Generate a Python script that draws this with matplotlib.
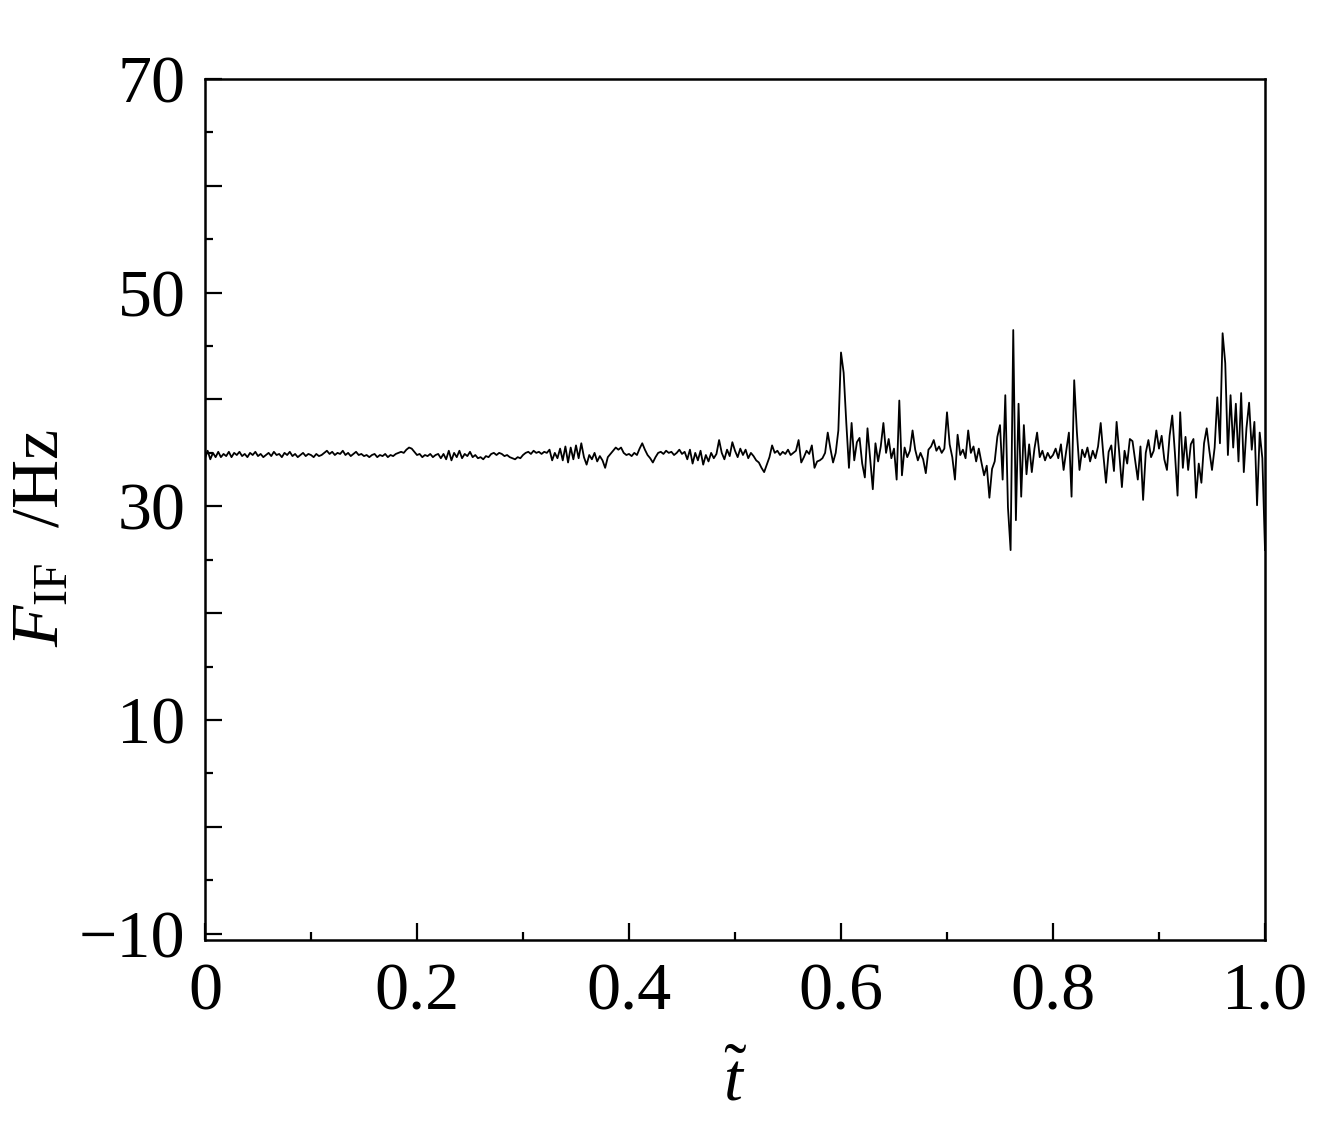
import numpy as np
import matplotlib
matplotlib.use("Agg")
import matplotlib.pyplot as plt
from matplotlib.ticker import FixedLocator, FuncFormatter

plt.rcParams['font.family'] = ['Liberation Serif', 'DejaVu Serif']
plt.rcParams['mathtext.fontset'] = 'custom'
plt.rcParams['mathtext.rm'] = 'Liberation Serif'
plt.rcParams['mathtext.it'] = 'Liberation Serif:italic'

# instantaneous frequency F_IF (Hz), sampled every 0.0025 of normalized time
seg0 = [34.5, 35.2, 34.4, 35.0, 34.6, 35.1, 34.6, 34.9, 34.7, 35.1,
        34.6, 35.0, 34.8, 35.1, 34.7, 34.9, 34.6, 35.0, 34.8, 35.1,
        34.7, 34.9, 34.6, 34.8, 35.0, 34.7, 35.1, 34.8, 34.9, 34.6,
        35.0, 34.8, 35.1, 34.7, 34.9, 34.6, 34.8, 35.0, 34.7, 34.9]
seg1 = [34.8, 34.6, 34.9, 34.7, 34.8, 35.0, 35.2, 34.9, 35.1, 34.8,
        35.0, 34.9, 35.2, 34.8, 35.0, 34.7, 34.9, 35.1, 34.8, 34.9,
        34.7, 34.8, 34.6, 34.8, 34.9, 34.6, 34.8, 34.7, 34.9, 34.6,
        34.8, 34.7, 34.9, 35.0, 35.1, 35.0, 35.3, 35.5, 35.4, 35.1]
seg2 = [34.8, 34.9, 34.6, 34.8, 34.7, 34.9, 34.6, 34.8, 34.9, 34.5,
        34.9, 34.4, 35.2, 34.3, 35.0, 34.6, 35.2, 34.5, 34.9, 34.7,
        35.1, 34.6, 34.8, 34.5, 34.6, 34.4, 34.7, 34.6, 34.9, 35.0,
        34.8, 35.0, 34.9, 34.7, 34.8, 34.6, 34.5, 34.4, 34.6, 34.5]
seg3 = [34.8, 35.0, 35.1, 34.9, 35.2, 35.0, 35.1, 34.9, 35.1, 35.0,
        35.3, 34.3, 35.0, 34.5, 35.4, 34.3, 35.6, 34.1, 35.5, 34.4,
        35.7, 34.5, 35.9, 34.6, 33.9, 34.8, 34.4, 35.0, 34.2, 34.7,
        34.3, 33.6, 34.6, 34.9, 35.2, 35.5, 35.3, 35.5, 35.0, 34.8]
seg4 = [34.9, 34.7, 35.0, 34.8, 35.4, 35.9, 35.3, 34.8, 34.5, 34.1,
        34.6, 35.0, 35.1, 34.9, 35.2, 35.0, 35.1, 34.8, 35.0, 35.3,
        34.9, 35.1, 34.4, 35.3, 34.0, 35.0, 34.3, 35.2, 33.9, 34.8,
        34.2, 35.0, 34.5, 34.9, 36.2, 35.0, 34.4, 35.3, 34.7, 36.0]
seg5 = [35.2, 34.6, 35.4, 34.8, 35.3, 34.5, 35.0, 34.7, 34.3, 34.1,
        33.6, 33.2, 33.9, 34.6, 35.7, 35.0, 35.2, 34.8, 35.1, 34.9,
        35.3, 34.8, 35.0, 35.2, 36.2, 34.1, 34.6, 35.2, 34.9, 35.7,
        33.6, 34.2, 34.3, 34.5, 35.0, 36.9, 35.4, 34.1, 35.0, 37.1]
seg6 = [44.4, 42.5, 37.8, 33.6, 37.8, 34.3, 36.0, 36.4, 34.0, 32.7,
        37.3, 34.5, 31.6, 35.9, 34.2, 35.6, 37.8, 35.0, 36.3, 34.5,
        35.4, 32.5, 39.9, 32.9, 35.5, 34.6, 35.2, 37.1, 35.3, 34.3,
        35.0, 34.4, 33.1, 35.3, 35.6, 36.2, 35.2, 35.6, 35.0, 35.4]
seg7 = [38.8, 35.8, 34.6, 32.5, 36.7, 34.8, 35.3, 34.5, 37.1, 35.0,
        35.6, 34.2, 35.4, 34.1, 32.9, 33.8, 30.8, 33.5, 34.2, 36.5,
        37.6, 32.5, 40.4, 29.9, 25.9, 46.5, 28.7, 39.6, 30.9, 37.6,
        33.0, 35.8, 33.2, 35.4, 36.9, 34.6, 35.2, 34.3, 35.0, 34.5]
seg8 = [34.8, 35.4, 34.5, 35.8, 33.4, 35.2, 36.9, 30.9, 41.8, 37.0,
        33.4, 35.3, 34.6, 35.5, 34.2, 35.2, 34.5, 35.6, 37.8, 34.8,
        32.2, 35.1, 35.7, 33.3, 37.9, 35.0, 31.8, 35.2, 34.0, 36.3,
        36.1, 34.3, 32.5, 35.6, 30.6, 35.0, 36.2, 34.6, 35.2, 37.1]
seg9 = [35.4, 36.6, 34.4, 33.4, 36.6, 38.5, 35.0, 31.0, 38.8, 33.6,
        36.5, 33.4, 35.8, 36.3, 30.8, 34.0, 32.2, 35.9, 37.3, 35.2,
        33.4, 35.5, 40.2, 35.9, 46.2, 43.4, 34.8, 40.4, 35.5, 39.6,
        34.2, 40.6, 33.2, 37.3, 39.7, 35.3, 37.9, 30.1, 36.9, 34.5]
f_end = [25.9]

f_if = np.array(seg0 + seg1 + seg2 + seg3 + seg4 + seg5 + seg6 + seg7 + seg8 + seg9 + f_end)
t = np.linspace(0.0, 1.0, len(f_if))

x_major = [0.0, 0.2, 0.4, 0.6, 0.8, 1.0]
x_minor = [0.1, 0.3, 0.5, 0.7, 0.9]
y_major = [-10, 0, 10, 20, 30, 40, 50, 60, 70]
y_minor = [-5, 5, 15, 25, 35, 45, 55, 65]
y_labeled = [-10, 10, 30, 50, 70]

fig = plt.figure(figsize=(13.17, 11.40), dpi=100)
ax = fig.add_axes([205/1317, 1 - 940/1140, 1060/1317, 861/1140])
ax.plot(t, f_if, color='black', linewidth=1.3)

ax.set_xlim(0, 1.0)
ax.set_ylim(-10.6, 70)

ax.xaxis.set_major_locator(FixedLocator(x_major))
ax.xaxis.set_minor_locator(FixedLocator(x_minor))
ax.yaxis.set_major_locator(FixedLocator(y_major))
ax.yaxis.set_minor_locator(FixedLocator(y_minor))
ax.xaxis.set_major_formatter(FuncFormatter(lambda v, p: "0" if abs(v) < 1e-9 else f"{v:.1f}"))
ax.yaxis.set_major_formatter(FuncFormatter(
    lambda v, p: (f"{int(round(v))}".replace("-", "\u2212")) if int(round(v)) in y_labeled else ""))

ax.tick_params(which='both', direction='in', top=False, right=False, width=1.6,
               labelsize=49)
ax.tick_params(which='major', length=12.5)
ax.tick_params(which='minor', length=5.8)
ax.tick_params(axis='y', which='major', pad=14)
ax.tick_params(axis='x', which='major', pad=16)
for s in ax.spines.values():
    s.set_linewidth(1.8)

fig.text(42/1317, 1 - 538/1140, r"$F_{\mathrm{IF}}$  /Hz", fontsize=49,
         rotation=90, ha='center', va='center')
ax.set_xlabel(r"$\tilde{t}$", fontsize=49, labelpad=22)

fig.savefig("out.png", dpi=100)
